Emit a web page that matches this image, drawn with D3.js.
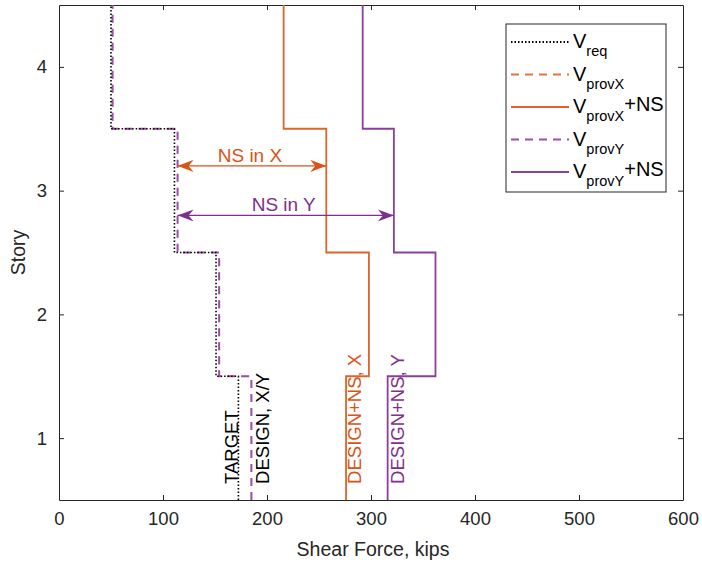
<!DOCTYPE html>
<html>
<head>
<meta charset="utf-8">
<script src="https://cdn.jsdelivr.net/npm/d3@7"></script>
<style>
  body { margin: 0; background: #fff; }
  text { font-family: "Liberation Sans", Arial, sans-serif; }
</style>
</head>
<body>
<div id="chart"></div>
<script>
// story numbers and shear per story (kips)
const stories = [1, 2, 3, 4];
const vReq = [172.5, 151, 111, 50];
const vProvX = [185, 154, 114, 51.5];
const vProvXNS = [276, 298, 257, 216];
const vProvY = [185, 154, 114, 51.5];
const vProvYNS = [316, 362, 322, 292];
const xTicks = [0, 100, 200, 300, 400, 500, 600];
const yTicks = [1, 2, 3, 4];

const ORANGE = '#D95319';
const PURPLE = '#7E2F8E';
const AXIS = '#262626';

const MARGIN = { TOP: 5, RIGHT: 19, BOTTOM: 66, LEFT: 59 };
const W = 702, H = 566;
const WIDTH = W - MARGIN.LEFT - MARGIN.RIGHT;
const HEIGHT = H - MARGIN.TOP - MARGIN.BOTTOM;

const svg = d3.select('#chart').append('svg')
  .attr('width', W).attr('height', H);

const g = svg.append('g')
  .attr('transform', `translate(${MARGIN.LEFT}, ${MARGIN.TOP})`);

const x = d3.scaleLinear().domain([0, 600]).range([0, WIDTH]);
const y = d3.scaleLinear().domain([0.5, 4.5]).range([HEIGHT, 0]);

// arrowheads
const defs = svg.append('defs');
[['orange', ORANGE], ['purple', PURPLE]].forEach(([name, col]) => {
  defs.append('marker')
    .attr('id', 'arr-' + name)
    .attr('viewBox', '0 0 16 12')
    .attr('refX', 16).attr('refY', 6)
    .attr('markerWidth', 16).attr('markerHeight', 12)
    .attr('markerUnits', 'userSpaceOnUse')
    .attr('orient', 'auto-start-reverse')
    .append('path')
    .attr('d', 'M0,0 L16,6 L0,12 L5,6 Z')
    .attr('fill', col);
});

// axes (ticks inside, on all four sides)
const axB = g.append('g').attr('transform', `translate(0, ${HEIGHT})`)
  .call(d3.axisBottom(x).tickValues(xTicks).tickSizeInner(-5).tickSizeOuter(0).tickPadding(12));
const axL = g.append('g')
  .call(d3.axisLeft(y).tickValues(yTicks).tickFormat(d3.format('d'))
    .tickSizeInner(-5).tickSizeOuter(0).tickPadding(12));
const axT = g.append('g')
  .call(d3.axisTop(x).tickValues(xTicks).tickSizeInner(-5).tickSizeOuter(0).tickFormat(''));
const axR = g.append('g').attr('transform', `translate(${WIDTH}, 0)`)
  .call(d3.axisRight(y).tickValues(yTicks).tickSizeInner(-5).tickSizeOuter(0).tickFormat(''));

[axB, axL, axT, axR].forEach((a) => {
  a.select('.domain').attr('stroke', AXIS).attr('stroke-width', 1);
  a.selectAll('.tick line').attr('stroke', AXIS);
  a.selectAll('.tick text').attr('fill', AXIS).style('font-size', '18.5px');
});
axT.selectAll('.tick').filter((d) => d === 0 || d === 600).remove();
axB.selectAll('.tick line').filter((d) => d === 0 || d === 600).remove();

// step profile: each story spans story-0.5 .. story+0.5
function profile(vals) {
  const pts = [];
  stories.forEach((s, i) => {
    pts.push([vals[i], s - 0.5]);
    pts.push([vals[i], s + 0.5]);
  });
  return pts;
}
const line = d3.line().x((d) => x(d[0])).y((d) => y(d[1]));

// VprovX is hidden under VprovY in the original
const series = [
  { vals: vProvX, color: '#E8743B', dash: '8,6', width: 1.1 },
  { vals: vProvY, color: '#9A50A8', dash: '8,6', width: 2 },
  { vals: vProvXNS, color: '#E0642A', dash: null, width: 1.8 },
  { vals: vProvYNS, color: '#8B3E9B', dash: null, width: 1.8 },
  { vals: vReq, color: '#000', dash: '1.5,2', width: 1.6 }
];

g.append('g').selectAll('path')
  .data(series)
  .join('path')
  .attr('d', (d) => line(profile(d.vals)))
  .attr('fill', 'none')
  .attr('stroke', (d) => d.color)
  .attr('stroke-width', (d) => d.width)
  .attr('stroke-dasharray', (d) => d.dash);

// NS arrows
const arrows = [
  { from: vProvX[2], to: vProvXNS[2], at: 3.2, color: ORANGE, id: 'orange', label: 'NS in X' },
  { from: vProvY[2], to: vProvYNS[2], at: 2.8, color: PURPLE, id: 'purple', label: 'NS in Y' }
];
arrows.forEach((a) => {
  g.append('line')
    .attr('x1', x(a.from)).attr('x2', x(a.to))
    .attr('y1', y(a.at)).attr('y2', y(a.at))
    .attr('stroke', a.color).attr('stroke-width', 1.3)
    .attr('marker-start', `url(#arr-${a.id})`)
    .attr('marker-end', `url(#arr-${a.id})`);
  g.append('text')
    .attr('x', x((a.from + a.to) / 2) - 2)
    .attr('y', y(a.at) - 4)
    .attr('text-anchor', 'middle')
    .attr('fill', a.color)
    .style('font-size', '19px')
    .text(a.label);
});

// vertical labels at the first story
const vLabels = [
  { text: 'TARGET', at: 172, color: '#000' },
  { text: 'DESIGN, X/Y', at: 202, color: '#000' },
  { text: 'DESIGN+NS, X', at: 290, color: ORANGE },
  { text: 'DESIGN+NS, Y', at: 332, color: PURPLE }
];
g.append('g').selectAll('text')
  .data(vLabels)
  .join('text')
  .attr('transform', (d) => `translate(${x(d.at)}, ${y(0.63)}) rotate(-90)`)
  .attr('fill', (d) => d.color)
  .style('font-size', '18.5px')
  .text((d) => d.text);

// axis titles
svg.append('text')
  .attr('x', MARGIN.LEFT + WIDTH / 2 + 2).attr('y', 556)
  .attr('text-anchor', 'middle').attr('fill', AXIS)
  .style('font-size', '19.5px')
  .text('Shear Force, kips');
svg.append('text')
  .attr('transform', `translate(25, ${MARGIN.TOP + HEIGHT / 2}) rotate(-90)`)
  .attr('text-anchor', 'middle').attr('fill', AXIS)
  .style('font-size', '19.5px')
  .text('Story');

// legend
const legendItems = [
  { main: 'V', sub: 'req', tail: '', color: '#000', dash: '1.5,2' },
  { main: 'V', sub: 'provX', tail: '', color: '#E8743B', dash: '8,6' },
  { main: 'V', sub: 'provX', tail: '+NS', color: '#E0642A', dash: null },
  { main: 'V', sub: 'provY', tail: '', color: '#9A50A8', dash: '8,6' },
  { main: 'V', sub: 'provY', tail: '+NS', color: '#8B3E9B', dash: null }
];
const lg = svg.append('g').attr('transform', 'translate(506, 24)');
lg.append('rect')
  .attr('width', 160).attr('height', 168)
  .attr('fill', '#fff').attr('stroke', AXIS).attr('stroke-width', 1);
const rows = lg.selectAll('g.row')
  .data(legendItems)
  .join('g')
  .attr('class', 'row')
  .attr('transform', (d, i) => `translate(0, ${18 + i * 32.5})`);
rows.append('line')
  .attr('x1', 5).attr('x2', 63)
  .attr('stroke', (d) => d.color)
  .attr('stroke-width', 1.8)
  .attr('stroke-dasharray', (d) => d.dash);
const lt = rows.append('text')
  .attr('x', 67).attr('y', 6)
  .attr('fill', '#000')
  .style('font-size', '20px');
lt.append('tspan').text((d) => d.main);
lt.append('tspan').attr('dy', 8).style('font-size', '14.5px').text((d) => d.sub);
lt.append('tspan').attr('dy', -10).text((d) => d.tail);
</script>
</body>
</html>
